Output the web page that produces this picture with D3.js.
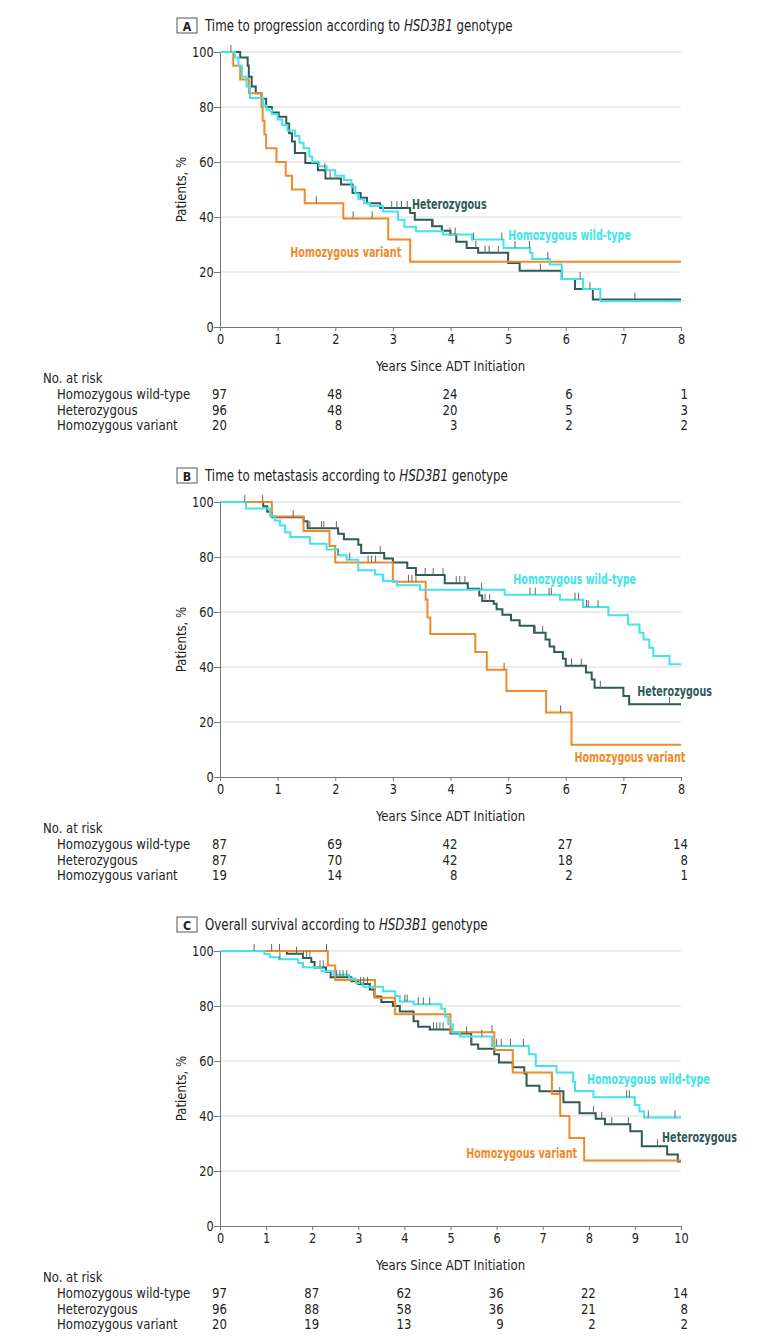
<!DOCTYPE html>
<html lang="en">
<head>
<meta charset="UTF-8">
<title>HSD3B1 genotype survival curves</title>
<script src="https://d3js.org/d3.v7.min.js"></script>
<style>
  body { margin: 0; background: #fff; }
  text { font-family: "Liberation Sans Narrow", "Arial Narrow", "DejaVu Sans Condensed", sans-serif; fill: #222; }
</style>
</head>
<body>
<svg id="chart"></svg>
<script>
// ---- data (years since ADT initiation, % patients) ----
const groups = ["Homozygous wild-type", "Heterozygous", "Homozygous variant"];
const yTicks = [0, 20, 40, 60, 80, 100];

// A: time to progression
const aWildT = [0, 0.26, 0.32, 0.38, 0.46, 0.52, 0.75, 0.81, 0.9, 1.0, 1.08, 1.17, 1.3, 1.38, 1.45, 1.55, 1.6, 1.72, 1.85, 2.0, 2.15, 2.28, 2.35, 2.4, 2.5, 2.6, 2.83, 3.09, 3.2, 3.4, 3.87, 4.37, 4.92, 5.38, 5.42, 5.72, 5.93, 6.3, 6.6];
const aWildS = [100, 98, 95, 91, 87.5, 83.3, 80.5, 79, 77.5, 75.5, 73.5, 71.5, 69.5, 67, 65, 62, 60, 58.5, 57, 55, 53.5, 51, 48.5, 46.5, 45, 44, 42, 39, 36.5, 34.8, 33.6, 31.8, 28.7, 27, 24.7, 22.7, 17.5, 13.8, 9.4];
const aHetT = [0, 0.35, 0.48, 0.5, 0.55, 0.62, 0.72, 0.8, 0.9, 1.02, 1.15, 1.2, 1.25, 1.3, 1.48, 1.7, 1.83, 2.1, 2.3, 2.44, 2.55, 2.78, 3.3, 3.38, 3.68, 3.85, 4.0, 4.1, 4.28, 4.48, 5.0, 5.2, 5.93, 6.16, 6.47];
const aHetS = [100, 98, 95, 91, 87.5, 85, 83, 80, 78, 76.5, 74, 70.5, 67.5, 63.3, 59.6, 57, 54, 51.8, 48.7, 47, 45, 43.3, 41.5, 39, 36.6, 35, 33.6, 31, 28.7, 27, 23.3, 20.5, 17.5, 13.8, 10];
const aVarT = [0, 0.23, 0.35, 0.5, 0.72, 0.74, 0.77, 0.8, 0.98, 1.14, 1.25, 1.47, 2.14, 2.92, 3.3];
const aVarS = [100, 95, 90, 85, 80, 75, 70, 65, 60, 55, 50, 45, 39.5, 31.8, 23.7];
const aWildCens = [3.99, 4.08, 4.4, 4.89, 5.12, 5.37, 5.69, 6.25, 6.42];
const aHetCens = [0.19, 1.82, 1.91, 2.98, 3.07, 3.15, 3.25, 3.7, 4.44, 4.6, 4.67, 4.83, 5.56, 7.2];
const aVarCens = [1.67, 2.31, 2.64];
const aRiskTimes = [0, 2, 4, 6, 8];
const aRiskWild = [97, 48, 24, 6, 1];
const aRiskHet = [96, 48, 20, 5, 3];
const aRiskVar = [20, 8, 3, 2, 2];

// B: time to metastasis
const bWildT = [0, 0.45, 0.87, 0.95, 1.04, 1.13, 1.22, 1.56, 1.85, 2.05, 2.2, 2.4, 2.69, 2.83, 3.07, 3.47, 4.94, 5.9, 6.3, 6.74, 7.08, 7.28, 7.35, 7.45, 7.52, 7.8];
const bWildS = [100, 97.6, 95, 93.3, 91.5, 89, 87.3, 84.8, 82.7, 80.6, 79, 75.2, 73.6, 71.3, 69.7, 68.1, 66.3, 64.5, 61.8, 58.8, 55.5, 52.5, 50, 47, 44, 41];
const bHetT = [0, 0.75, 0.82, 0.9, 1.45, 1.52, 2.05, 2.15, 2.4, 2.45, 2.85, 3.0, 3.25, 3.4, 3.9, 4.3, 4.5, 4.55, 4.75, 4.8, 4.9, 5.05, 5.2, 5.45, 5.65, 5.72, 5.8, 5.95, 6.0, 6.35, 6.45, 6.5, 7.0, 7.1];
const bHetS = [100, 98.5, 96.5, 94.5, 93, 90.5, 88.5, 86.5, 84.5, 81.5, 79.5, 78, 76, 73.5, 70.5, 68.5, 66, 64, 63, 61, 59, 57, 55, 52.5, 50, 47.5, 45.5, 43, 40.5, 38, 35.5, 32.5, 29.5, 26.5];
const bVarT = [0, 0.9, 1.45, 1.9, 2.0, 3.0, 3.57, 3.6, 3.65, 4.43, 4.63, 4.97, 5.66, 6.1];
const bVarS = [100, 94.7, 89.5, 84, 78, 71, 64.5, 58, 52, 45.5, 39, 31.3, 23.5, 11.7];
const bWildCens = [0.43, 2.05, 2.25, 4.54, 5.38, 5.47, 5.71, 5.75, 6.16, 6.22, 6.36, 6.39, 6.56];
const bHetCens = [0.74, 1.27, 1.56, 1.76, 1.8, 2.02, 2.78, 3.56, 3.7, 3.87, 4.1, 4.16, 4.25, 4.6, 4.68, 5.47, 5.6, 6.1, 6.27, 6.6, 7.8];
const bVarCens = [2.57, 2.63, 2.7, 3.27, 3.33, 3.4, 4.93, 5.91];
const bRiskTimes = [0, 2, 4, 6, 8];
const bRiskWild = [87, 69, 42, 27, 14];
const bRiskHet = [87, 70, 42, 18, 8];
const bRiskVar = [19, 14, 8, 2, 1];

// C: overall survival
const cWildT = [0, 0.96, 1.08, 1.28, 1.7, 1.8, 2.2, 2.46, 2.8, 2.95, 3.1, 3.54, 3.8, 3.9, 4.2, 4.8, 4.88, 4.95, 5.05, 5.2, 5.9, 6.7, 6.85, 7.3, 7.66, 7.7, 8.1, 9.0, 9.1, 9.2];
const cWildS = [100, 98.9, 97.7, 97, 95.6, 94.1, 92.6, 91.4, 90, 88.4, 87, 85.4, 83.6, 81.6, 80.6, 79, 76.2, 73.4, 70.4, 68.9, 65.5, 62.5, 58.2, 55.8, 52.5, 49.1, 46.8, 44, 41.6, 39.5];
const cHetT = [0, 1.45, 1.8, 1.98, 2.05, 2.3, 2.4, 2.85, 3.0, 3.25, 3.35, 3.5, 3.75, 3.9, 4.2, 4.3, 4.55, 5.0, 5.45, 5.6, 5.95, 6.05, 6.35, 6.6, 6.65, 6.93, 7.45, 7.8, 8.15, 8.35, 8.9, 9.15, 9.7, 9.93];
const cHetS = [100, 99, 97.5, 96, 94, 92.5, 90.5, 89, 88, 86, 83.5, 81.5, 80, 78, 74.5, 72.5, 71.5, 70, 66, 64.5, 62.5, 59.5, 57.7, 55.5, 51, 49, 45, 41, 39, 37, 34.5, 29, 26, 23.5];
const cVarT = [0, 2.34, 2.5, 3.36, 3.8, 5.0, 5.95, 6.35, 7.2, 7.38, 7.58, 7.9];
const cVarS = [100, 94.7, 89.5, 83, 77, 70.5, 64, 55.8, 48, 40, 32, 23.8];
const cWildCens = [1.3, 4.01, 4.06, 4.3, 4.41, 4.55, 5.68, 6.0, 6.1, 6.3, 6.58, 8.82, 8.88, 9.29, 9.87];
const cHetCens = [0.74, 1.12, 1.29, 1.66, 1.81, 1.88, 1.95, 2.17, 2.24, 2.53, 2.6, 2.67, 2.75, 3.05, 3.12, 3.2, 4.63, 4.7, 4.77, 4.84, 5.35, 5.46, 8.1, 8.28, 8.5, 8.86, 9.49];
const cVarCens = [2.31, 5.9, 7.37];
const cRiskTimes = [0, 2, 4, 6, 8, 10];
const cRiskWild = [97, 87, 62, 36, 22, 14];
const cRiskHet = [96, 88, 58, 36, 21, 8];
const cRiskVar = [20, 19, 13, 9, 2, 2];

// ---- style ----
const COL_WILD = "#42e3ea";
const COL_HET = "#2f5a57";
const COL_VAR = "#ee8a2a";
const SX = 0.93;   // horizontal squeeze to mimic the condensed journal font

const W = 780, H = 1342;
const X0 = 220, X1 = 681, PH = 275;

const svg = d3.select("#chart").attr("width", W).attr("height", H);

// text placed with a horizontal squeeze around its anchor point
function txt(parent, x, y, str, size, opts = {}) {
  const sx = opts.sx || SX;
  const rot = opts.rotate ? ` rotate(${opts.rotate})` : "";
  return parent.append("text")
    .attr("transform", `translate(${x},${y})${rot} scale(${sx},1)`)
    .attr("text-anchor", opts.anchor || "start")
    .attr("font-size", size)
    .attr("font-weight", opts.bold ? "bold" : null)
    .style("fill", opts.color || "#222")
    .text(str);
}

const panels = [
  {
    letter: "A", pre: "Time to progression according to ", top: 52, xMax: 8,
    xTicks: d3.range(0, 9),
    series: [
      {t: aHetT, s: aHetS, cens: aHetCens, color: COL_HET, label: "Heterozygous", lx: 3.33, ly: 44.7},
      {t: aVarT, s: aVarS, cens: aVarCens, color: COL_VAR, label: "Homozygous variant", lx: 1.22, ly: 27.3},
      {t: aWildT, s: aWildS, cens: aWildCens, color: COL_WILD, label: "Homozygous wild-type", lx: 5.0, ly: 33.5}
    ],
    riskTimes: aRiskTimes, risk: [aRiskWild, aRiskHet, aRiskVar]
  },
  {
    letter: "B", pre: "Time to metastasis according to ", top: 502, xMax: 8,
    xTicks: d3.range(0, 9),
    series: [
      {t: bHetT, s: bHetS, cens: bHetCens, color: COL_HET, label: "Heterozygous", lx: 7.24, ly: 31.3},
      {t: bVarT, s: bVarS, cens: bVarCens, color: COL_VAR, label: "Homozygous variant", lx: 6.15, ly: 7.3},
      {t: bWildT, s: bWildS, cens: bWildCens, color: COL_WILD, label: "Homozygous wild-type", lx: 5.09, ly: 72}
    ],
    riskTimes: bRiskTimes, risk: [bRiskWild, bRiskHet, bRiskVar]
  },
  {
    letter: "C", pre: "Overall survival according to ", top: 951, xMax: 10,
    xTicks: d3.range(0, 11),
    series: [
      {t: cHetT, s: cHetS, cens: cHetCens, color: COL_HET, label: "Heterozygous", lx: 9.59, ly: 32.4},
      {t: cVarT, s: cVarS, cens: cVarCens, color: COL_VAR, label: "Homozygous variant", lx: 5.34, ly: 26.5},
      {t: cWildT, s: cWildS, cens: cWildCens, color: COL_WILD, label: "Homozygous wild-type", lx: 7.96, ly: 53.5}
    ],
    riskTimes: cRiskTimes, risk: [cRiskWild, cRiskHet, cRiskVar]
  }
];

function stepValue(ts, ss, x) {
  let v = ss[0];
  for (let i = 0; i < ts.length; i++) if (ts[i] <= x) v = ss[i];
  return v;
}

panels.forEach(p => {
  const top = p.top, bottom = top + PH;
  const x = d3.scaleLinear().domain([0, p.xMax]).range([X0, X1]);
  const y = d3.scaleLinear().domain([0, 100]).range([bottom, top]);
  const g = svg.append("g");

  // panel title
  g.append("rect").attr("x", 177).attr("y", top - 34).attr("width", 20).attr("height", 15)
    .attr("fill", "none").attr("stroke", "#555").attr("stroke-width", 1);
  txt(g, 187, top - 21.5, p.letter, 13, {anchor: "middle", bold: true, sx: 0.95});
  const title = txt(g, 205, top - 21.5, "", 15, {sx: 0.88});
  title.append("tspan").text(p.pre);
  title.append("tspan").attr("font-style", "italic").text("HSD3B1");
  title.append("tspan").text(" genotype");

  // gridlines
  g.append("g").selectAll("line").data(yTicks.filter(d => d > 0)).join("line")
    .attr("x1", X0).attr("x2", X1).attr("y1", d => y(d)).attr("y2", d => y(d))
    .attr("stroke", "#d9d9d9").attr("stroke-width", 1);

  // axes
  const yAxis = g.append("g").attr("transform", `translate(${X0},0)`)
    .call(d3.axisLeft(y).tickValues(yTicks).tickSize(6).tickSizeOuter(0).tickPadding(1));
  const xAxis = g.append("g").attr("transform", `translate(0,${bottom})`)
    .call(d3.axisBottom(x).tickValues(p.xTicks).tickSize(4).tickSizeOuter(0).tickPadding(3));
  [yAxis, xAxis].forEach(a => {
    a.select(".domain").attr("stroke", "#777");
    a.selectAll(".tick line").attr("stroke", "#777");
    a.selectAll(".tick text").attr("font-size", 14).style("fill", "#222")
      .attr("transform", "scale(0.9,1)")
      .style("font-family", '"Liberation Sans Narrow", "Arial Narrow", "DejaVu Sans Condensed", sans-serif');
  });

  txt(g, 186, (top + bottom) / 2, "Patients, %", 14, {anchor: "middle", rotate: -90});
  txt(g, (X0 + X1) / 2, bottom + 44, "Years Since ADT Initiation", 14, {anchor: "middle"});

  // curves
  const line = d3.line().x(d => x(d[0])).y(d => y(d[1])).curve(d3.curveStepAfter);
  p.series.forEach(s => {
    const pts = s.t.map((t, i) => [t, s.s[i]]);
    pts.push([p.xMax, s.s[s.s.length - 1]]);
    g.append("path").datum(pts).attr("d", line)
      .attr("fill", "none").attr("stroke", s.color).attr("stroke-width", 2);
  });
  p.series.forEach(s => {
    g.append("g").selectAll("line").data(s.cens).join("line")
      .attr("x1", d => x(d)).attr("x2", d => x(d))
      .attr("y1", d => y(stepValue(s.t, s.s, d)) - 7)
      .attr("y2", d => y(stepValue(s.t, s.s, d)))
      .attr("stroke", "#666").attr("stroke-width", 1);
  });
  p.series.forEach(s => {
    txt(g, x(s.lx), y(s.ly) + 5, s.label, 13.5, {bold: true, color: s.color, sx: 0.79});
  });

  // number at risk
  txt(g, 43, bottom + 56, "No. at risk", 14);
  groups.forEach((name, gi) => {
    const ry = bottom + 72 + gi * 15.5;
    txt(g, 57, ry, name, 14);
    p.risk[gi].forEach((d, i) => {
      txt(g, x(p.riskTimes[i]) + 7, ry, d, 14, {anchor: "end"});
    });
  });
});
</script>
</body>
</html>
